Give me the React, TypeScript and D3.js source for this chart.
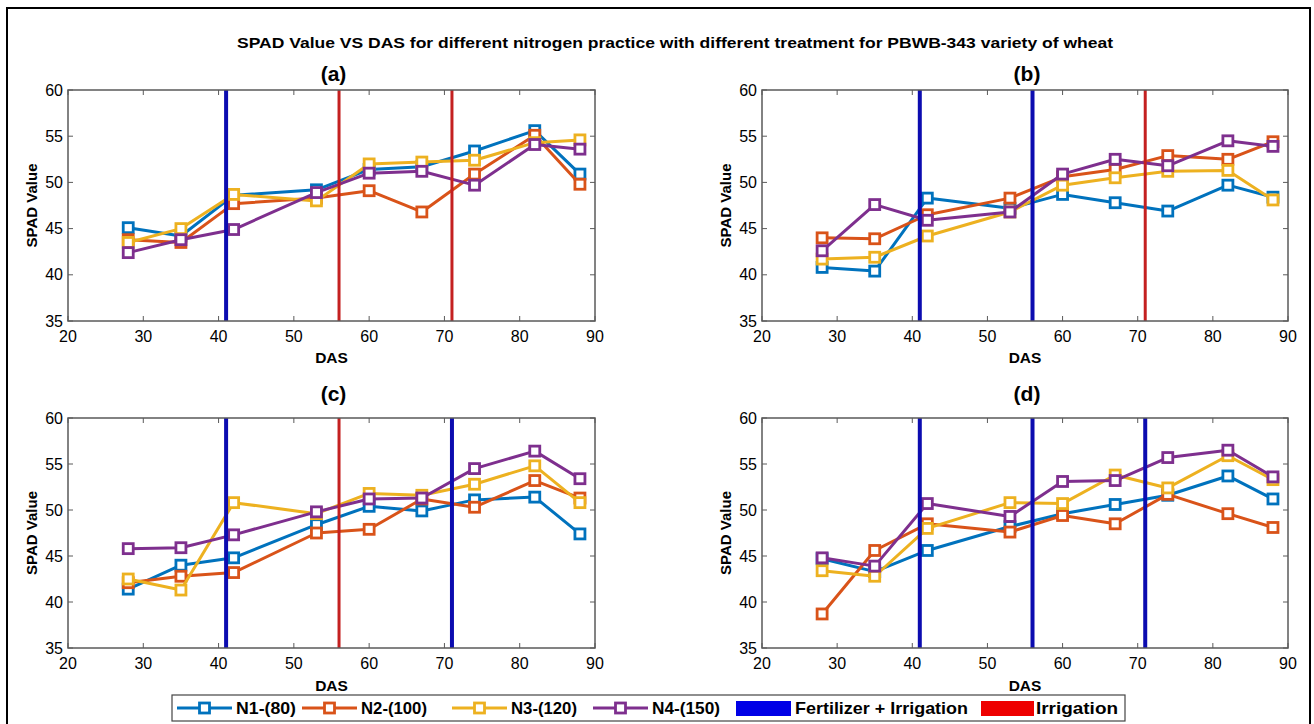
import React, { useRef, useEffect } from 'react';
import * as d3 from 'd3';

// days after sowing (x positions of the observations)
const das = [28, 35, 42, 53, 60, 67, 74, 82, 88];

const seriesNames = ['N1-(80)', 'N2-(100)', 'N3-(120)', 'N4-(150)'];
const seriesColors = ['#0072BD', '#D95319', '#EDB120', '#7E2F8E'];

// SPAD values per panel, one row per nitrogen level (N1..N4)
const panelA = [
  [45.1, 44.2, 48.6, 49.2, 51.4, 51.7, 53.4, 55.6, 50.9],
  [43.8, 43.5, 47.7, 48.3, 49.1, 46.8, 50.9, 55.1, 49.8],
  [43.5, 45.0, 48.7, 48.0, 52.0, 52.2, 52.4, 54.3, 54.6],
  [42.4, 43.8, 44.9, 48.9, 51.0, 51.2, 49.7, 54.1, 53.6],
];
const panelB = [
  [40.8, 40.4, 48.3, 47.2, 48.7, 47.8, 46.9, 49.7, 48.4],
  [44.0, 43.9, 46.5, 48.3, 50.6, 51.4, 52.9, 52.5, 54.4],
  [41.7, 41.9, 44.2, 46.8, 49.7, 50.5, 51.2, 51.3, 48.1],
  [42.6, 47.6, 45.9, 46.8, 50.9, 52.5, 51.8, 54.5, 53.9],
];
const panelC = [
  [41.4, 44.0, 44.8, 48.4, 50.4, 49.9, 51.1, 51.4, 47.4],
  [42.1, 42.8, 43.2, 47.5, 47.9, 51.2, 50.3, 53.2, 51.3],
  [42.5, 41.3, 50.8, 49.6, 51.8, 51.6, 52.8, 54.8, 50.8],
  [45.8, 45.9, 47.3, 49.8, 51.2, 51.3, 54.5, 56.4, 53.4],
];
const panelD = [
  [44.7, 43.3, 45.6, 48.2, 49.6, 50.6, 51.6, 53.7, 51.2],
  [38.7, 45.6, 48.5, 47.6, 49.4, 48.5, 51.7, 49.6, 48.1],
  [43.4, 42.8, 48.0, 50.8, 50.7, 53.8, 52.4, 55.9, 53.3],
  [44.8, 43.9, 50.7, 49.3, 53.1, 53.2, 55.7, 56.5, 53.6],
];

// timing of treatments (DAS)
const fertIrrigA = [41];
const irrigA = [56, 71];
const fertIrrigB = [41, 56];
const irrigB = [71];
const fertIrrigC = [41, 71];
const irrigC = [56];
const fertIrrigD = [41, 56, 71];
const irrigD: number[] = [];

const xTicks = [20, 30, 40, 50, 60, 70, 80, 90];
const yTicks = [35, 40, 45, 50, 55, 60];

const FONT = '"Liberation Sans", Arial, Helvetica, sans-serif';

const panels = [
  { label: '(a)', data: panelA, fert: fertIrrigA, irr: irrigA, left: 68, right: 595, top: 90, bottom: 321, titleY: 74, xlabY: 358 },
  { label: '(b)', data: panelB, fert: fertIrrigB, irr: irrigB, left: 762, right: 1288, top: 90, bottom: 321, titleY: 74, xlabY: 358 },
  { label: '(c)', data: panelC, fert: fertIrrigC, irr: irrigC, left: 68, right: 595, top: 418, bottom: 648, titleY: 394, xlabY: 686 },
  { label: '(d)', data: panelD, fert: fertIrrigD, irr: irrigD, left: 762, right: 1288, top: 418, bottom: 648, titleY: 394, xlabY: 686 },
];

const App = () => {
  const ref = useRef<SVGSVGElement>(null);

  useEffect(() => {
    const svg = d3.select(ref.current);
    svg.selectAll('*').remove();

    svg.append('rect').attr('x', 0).attr('y', 0).attr('width', 1314).attr('height', 724).attr('fill', '#fff');
    svg.append('rect').attr('x', 7).attr('y', 8).attr('width', 1303).attr('height', 730)
      .attr('fill', 'none').attr('stroke', '#000').attr('stroke-width', 2);

    // source image is stretched horizontally, so the title is fitted to its width
    svg.append('text').attr('x', 237).attr('y', 48)
      .attr('textLength', 876).attr('lengthAdjust', 'spacingAndGlyphs')
      .style('font-family', FONT).style('font-size', '15px').style('font-weight', 'bold')
      .text('SPAD Value VS DAS for different nitrogen practice with different treatment for PBWB-343 variety of wheat');

    panels.forEach((p) => {
      const x = d3.scaleLinear().domain([20, 90]).range([p.left, p.right]);
      const y = d3.scaleLinear().domain([35, 60]).range([p.bottom, p.top]);
      const g = svg.append('g');
      const cx = (p.left + p.right) / 2;

      g.append('text').attr('x', cx + 2).attr('y', p.titleY + 7).attr('text-anchor', 'middle')
        .style('font-family', FONT).style('font-size', '21px').style('font-weight', 'bold').text(p.label);

      // series
      const line = d3.line<number>().x((d, i) => x(das[i])).y((d) => y(d));
      p.data.forEach((vals, s) => {
        g.append('path').attr('d', line(vals)).attr('fill', 'none')
          .attr('stroke', seriesColors[s]).attr('stroke-width', 3).attr('stroke-linejoin', 'round');
        g.selectAll(null).data(vals).join('rect')
          .attr('x', (d, i) => x(das[i]) - 5).attr('y', (d) => y(d) - 5)
          .attr('width', 10).attr('height', 10).attr('fill', '#fff')
          .attr('stroke', seriesColors[s]).attr('stroke-width', 2.8);
      });

      // treatment lines
      p.fert.forEach((d) => {
        g.append('line').attr('x1', x(d)).attr('x2', x(d)).attr('y1', p.top).attr('y2', p.bottom)
          .attr('stroke', '#0c0cb0').attr('stroke-width', 4);
      });
      p.irr.forEach((d) => {
        g.append('line').attr('x1', x(d)).attr('x2', x(d)).attr('y1', p.top).attr('y2', p.bottom)
          .attr('stroke', '#c42020').attr('stroke-width', 3);
      });

      // box + inner ticks
      g.append('rect').attr('x', p.left).attr('y', p.top).attr('width', p.right - p.left).attr('height', p.bottom - p.top)
        .attr('fill', 'none').attr('stroke', '#5a5a5a').attr('stroke-width', 1.5);
      xTicks.forEach((t) => {
        g.append('line').attr('x1', x(t)).attr('x2', x(t)).attr('y1', p.bottom).attr('y2', p.bottom - 5).attr('stroke', '#5a5a5a');
        g.append('line').attr('x1', x(t)).attr('x2', x(t)).attr('y1', p.top).attr('y2', p.top + 5).attr('stroke', '#5a5a5a');
        g.append('text').attr('x', x(t)).attr('y', p.bottom + 21).attr('text-anchor', 'middle')
          .style('font-family', FONT).style('font-size', '16px').text(t);
      });
      yTicks.forEach((t) => {
        g.append('line').attr('x1', p.left).attr('x2', p.left + 5).attr('y1', y(t)).attr('y2', y(t)).attr('stroke', '#5a5a5a');
        g.append('line').attr('x1', p.right).attr('x2', p.right - 5).attr('y1', y(t)).attr('y2', y(t)).attr('stroke', '#5a5a5a');
        g.append('text').attr('x', p.left - 5).attr('y', y(t) + 5.5).attr('text-anchor', 'end')
          .style('font-family', FONT).style('font-size', '16px').text(t);
      });

      g.append('text').attr('x', cx).attr('y', p.xlabY + 5).attr('text-anchor', 'middle')
        .style('font-family', FONT).style('font-size', '15.5px').style('font-weight', 'bold').text('DAS');
      g.append('text').attr('transform', `translate(${p.left - 36},${(p.top + p.bottom) / 2}) rotate(-90)`)
        .attr('text-anchor', 'middle').attr('dy', '0.35em')
        .style('font-family', FONT).style('font-size', '15px').style('font-weight', 'bold').text('SPAD Value');
    });

    // legend
    const lg = svg.append('g');
    lg.append('rect').attr('x', 172).attr('y', 695).attr('width', 953).attr('height', 26)
      .attr('fill', '#fff').attr('stroke', '#444').attr('stroke-width', 1.2);
    const ly = 708;
    const lineStarts = [177, 302, 452, 593];
    const legendText = (x: number, label: string, width: number) =>
      lg.append('text').attr('x', x).attr('y', ly + 6)
        .attr('textLength', width).attr('lengthAdjust', 'spacingAndGlyphs')
        .style('font-family', FONT).style('font-size', '17px').style('font-weight', 'bold').text(label);
    const nameWidths = [60, 66, 66, 68];
    seriesNames.forEach((name, s) => {
      const x0 = lineStarts[s];
      lg.append('line').attr('x1', x0).attr('x2', x0 + 55).attr('y1', ly).attr('y2', ly)
        .attr('stroke', seriesColors[s]).attr('stroke-width', 3);
      lg.append('rect').attr('x', x0 + 27.5 - 5).attr('y', ly - 5).attr('width', 10).attr('height', 10)
        .attr('fill', '#fff').attr('stroke', seriesColors[s]).attr('stroke-width', 2.8);
      legendText(x0 + 59, name, nameWidths[s]);
    });
    lg.append('rect').attr('x', 736).attr('y', 701).attr('width', 55).attr('height', 15).attr('fill', '#0000e6');
    legendText(795, 'Fertilizer + Irrigation', 173);
    lg.append('rect').attr('x', 981).attr('y', 701).attr('width', 53).attr('height', 15).attr('fill', '#ee0000');
    legendText(1036, 'Irrigation', 82);
  }, []);

  return (
    <svg ref={ref} width={1314} height={724}
      style={{ position: 'absolute', left: 0, top: 0, display: 'block' }} />
  );
};

export default App;
